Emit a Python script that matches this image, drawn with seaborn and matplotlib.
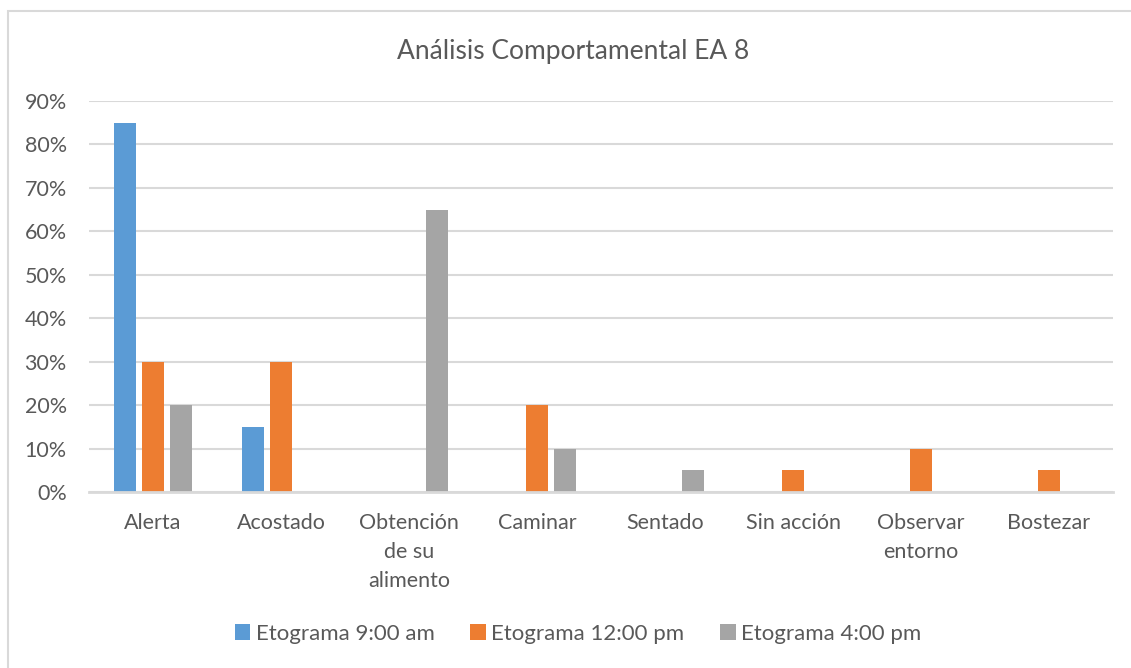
import matplotlib
matplotlib.use("Agg")
import matplotlib.pyplot as plt
from matplotlib.patches import Rectangle
from matplotlib.ticker import PercentFormatter
import seaborn as sns
import pandas as pd

categories = ["Alerta", "Acostado", "Obtención\nde su\nalimento", "Caminar",
              "Sentado", "Sin acción", "Observar\nentorno", "Bostezar"]
series_names = ["Etograma 9:00 am", "Etograma 12:00 pm", "Etograma 4:00 pm"]
am_9 = [0.85, 0.15, 0.00, 0.00, 0.00, 0.00, 0.00, 0.00]
pm_12 = [0.30, 0.30, 0.00, 0.20, 0.00, 0.05, 0.10, 0.05]
pm_4 = [0.20, 0.00, 0.65, 0.10, 0.05, 0.00, 0.00, 0.00]
colors = ["#5B9BD5", "#ED7D31", "#A5A5A5"]

rows = []
for name, vals in zip(series_names, [am_9, pm_12, pm_4]):
    for cat, v in zip(categories, vals):
        rows.append({"cat": cat, "serie": name, "valor": v})
df = pd.DataFrame(rows)

sns.set_theme(style="white")
plt.rcParams["font.family"] = ["Lato", "DejaVu Sans"]
text_color = "#595959"
grid_color = "#D9D9D9"

fig = plt.figure(figsize=(11.31, 6.68), dpi=100)
ax = fig.add_axes([89 / 1131, 1 - 492 / 668, (1113 - 89) / 1131, (492 - 101) / 668])

sns.barplot(data=df, x="cat", y="valor", hue="serie", order=categories,
            hue_order=series_names, palette=colors, width=0.656, gap=0.21,
            linewidth=0, saturation=1, ax=ax, legend=True)

ax.set_ylim(0, 0.9)
ax.set_xlim(-0.5, len(categories) - 0.5)
ax.set_yticks([i / 10 for i in range(10)])
ax.yaxis.set_major_formatter(PercentFormatter(1.0, decimals=0))
ax.yaxis.grid(True, color=grid_color, linewidth=1.5)
ax.set_axisbelow(True)
ax.set_xlabel("")
ax.set_ylabel("")
for side in ["top", "right", "left"]:
    ax.spines[side].set_visible(False)
ax.spines["bottom"].set_color(grid_color)
ax.spines["bottom"].set_linewidth(2)
ax.tick_params(axis="both", length=0, colors=text_color, labelsize=15.5)
ax.tick_params(axis="x", pad=15)
ax.tick_params(axis="y", pad=16)
for lbl in ax.get_xticklabels():
    lbl.set_linespacing(1.58)

handles, labels = ax.get_legend_handles_labels()
ax.get_legend().remove()
fig.legend(handles, labels, loc="center", bbox_to_anchor=(578 / 1131, 1 - 634 / 668),
           ncol=3, frameon=False, fontsize=16, labelcolor=text_color,
           handlelength=0.7, handleheight=0.7, handletextpad=0.25, columnspacing=1.6)

fig.text(573 / 1131, 1 - 52 / 668, "Análisis Comportamental EA 8", ha="center",
         va="center", fontsize=19, color=text_color)

fig.patches.append(Rectangle((7.5 / 1131, -0.1), 1.2, 1 - 11.5 / 668 + 0.1,
                             transform=fig.transFigure, fill=False,
                             edgecolor=grid_color, linewidth=1.5))

fig.savefig("out.png", dpi=100, facecolor="white")
